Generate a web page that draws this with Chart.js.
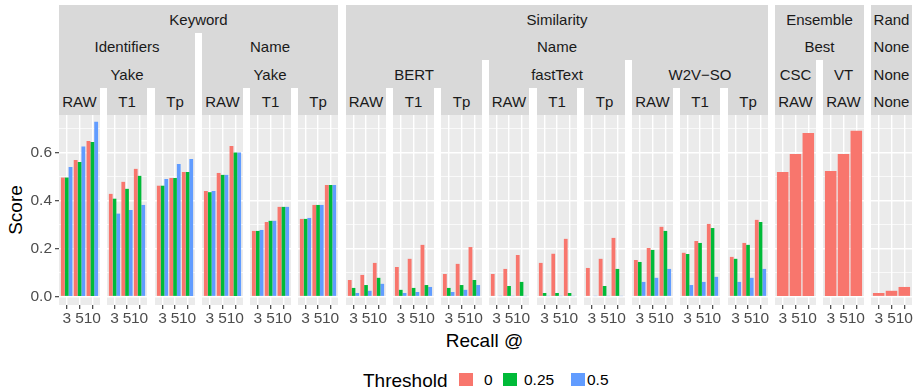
<!DOCTYPE html>
<html><head><meta charset="utf-8">
<script src="https://cdn.jsdelivr.net/npm/chart.js@4.4.0/dist/chart.umd.min.js"></script>
<style>
body{margin:0;background:#fff;}
#root{position:relative;width:916px;height:391px;overflow:hidden;font-family:"Liberation Sans",Arial,sans-serif;background:#fff;}
.strip{position:absolute;background:#D9D9D9;color:#1A1A1A;font-size:15px;display:flex;align-items:center;justify-content:center;white-space:nowrap;overflow:hidden;}
.txt{position:absolute;white-space:nowrap;color:#000;}
canvas{position:absolute;}
</style></head><body><div id="root"></div>
<script>
// ---- data ----
const recallAt = ['3', '5', '10'];
const thresholds = ['0', '0.25', '0.5'];
const thresholdColors = ['#F8766D', '#00BA38', '#619CFF'];
const yTickValues = [0, 0.1, 0.2, 0.3, 0.4, 0.5, 0.6, 0.7];
const yTickLabels = ['0.0', '', '0.2', '', '0.4', '', '0.6', ''];

// each: rows = threshold 0 / 0.25 / 0.5, columns = Recall@3, @5, @10
const kwIdYakeRaw = [[0.495, 0.568, 0.647], [0.495, 0.560, 0.643], [0.539, 0.624, 0.727]];
const kwIdYakeT1  = [[0.427, 0.477, 0.531], [0.407, 0.448, 0.502], [0.345, 0.360, 0.381]];
const kwIdYakeTp  = [[0.461, 0.493, 0.518], [0.461, 0.493, 0.518], [0.489, 0.551, 0.572]];
const kwNmYakeRaw = [[0.439, 0.514, 0.626], [0.434, 0.506, 0.599], [0.439, 0.506, 0.599]];
const kwNmYakeT1  = [[0.273, 0.310, 0.373], [0.273, 0.315, 0.373], [0.277, 0.315, 0.373]];
const kwNmYakeTp  = [[0.323, 0.381, 0.464], [0.323, 0.381, 0.464], [0.327, 0.381, 0.464]];
const simBertRaw  = [[0.069, 0.090, 0.140], [0.036, 0.048, 0.078], [0.015, 0.024, 0.053]];
const simBertT1   = [[0.123, 0.157, 0.215], [0.028, 0.036, 0.048], [0.015, 0.019, 0.040]];
const simBertTp   = [[0.094, 0.136, 0.206], [0.036, 0.048, 0.069], [0.019, 0.028, 0.048]];
const simFtRaw    = [[0.094, 0.115, 0.173], [0.003, 0.044, 0.061], [0.002, 0.002, 0.002]];
const simFtT1     = [[0.140, 0.178, 0.240], [0.015, 0.015, 0.015], [0.002, 0.002, 0.002]];
const simFtTp     = [[0.119, 0.157, 0.244], [0.003, 0.044, 0.115], [0.002, 0.002, 0.002]];
const simW2vRaw   = [[0.152, 0.202, 0.290], [0.144, 0.194, 0.273], [0.061, 0.078, 0.115]];
const simW2vT1    = [[0.182, 0.231, 0.302], [0.177, 0.223, 0.285], [0.048, 0.061, 0.082]];
const simW2vTp    = [[0.165, 0.223, 0.319], [0.157, 0.215, 0.310], [0.061, 0.078, 0.115]];
const ensCscRaw   = [[0.518, 0.593, 0.680]];
const ensVtRaw    = [[0.522, 0.593, 0.689]];
const randNone    = [[0.015, 0.024, 0.040]];

const panelData = [kwIdYakeRaw, kwIdYakeT1, kwIdYakeTp, kwNmYakeRaw, kwNmYakeT1, kwNmYakeTp,
  simBertRaw, simBertT1, simBertTp, simFtRaw, simFtT1, simFtTp, simW2vRaw, simW2vT1, simW2vTp,
  ensCscRaw, ensVtRaw, randNone];

// strip rows: [label, first panel, last panel]
const strip1 = [['Keyword', 0, 5], ['Similarity', 6, 14], ['Ensemble', 15, 16], ['Rand', 17, 17]];
const strip2 = [['Identifiers', 0, 2], ['Name', 3, 5], ['Name', 6, 14], ['Best', 15, 16], ['None', 17, 17]];
const strip3 = [['Yake', 0, 2], ['Yake', 3, 5], ['BERT', 6, 8], ['fastText', 9, 11], ['W2V\u2212SO', 12, 14], ['CSC', 15, 15], ['VT', 16, 16], ['None', 17, 17]];
const strip4 = ['RAW', 'T1', 'Tp', 'RAW', 'T1', 'Tp', 'RAW', 'T1', 'Tp', 'RAW', 'T1', 'Tp', 'RAW', 'T1', 'Tp', 'RAW', 'RAW', 'None'];

// ---- layout ----
const root = document.getElementById('root');
const FONT = '"Liberation Sans", Arial, sans-serif';
const nP = panelData.length;
const lefts = [], rights = [];
for (let i = 0; i < nP; i++) { lefts.push(Math.round(59 + i * 47.76)); rights.push(Math.round(59 + i * 47.76 + 40.6)); }
const panelTop = 115, panelBottom = 305, canvasBottom = 332;

function addStrip(label, a, b, top, h) {
  const d = document.createElement('div');
  d.className = 'strip';
  d.style.left = lefts[a] + 'px'; d.style.width = (rights[b] - lefts[a]) + 'px';
  d.style.top = top + 'px'; d.style.height = h + 'px';
  d.textContent = label;
  root.appendChild(d);
}
strip1.forEach(s => addStrip(s[0], s[1], s[2], 5, 28));
strip2.forEach(s => addStrip(s[0], s[1], s[2], 33, 27));
strip3.forEach(s => addStrip(s[0], s[1], s[2], 60, 28));
strip4.forEach((s, i) => addStrip(s, i, i, 88, 27));

function addText(t, x, y, size, extra) {
  const d = document.createElement('div');
  d.className = 'txt'; d.textContent = t;
  d.style.fontSize = size + 'px';
  d.style.left = x + 'px'; d.style.top = y + 'px';
  d.style.lineHeight = '1';
  if (extra) Object.assign(d.style, extra);
  root.appendChild(d);
  return d;
}
addText('Score', 15, 210, 19, {transform: 'translate(-50%,-50%) rotate(-90deg)'});
addText('Recall @', 484.5, 340, 19, {transform: 'translate(-50%,-50%)'});
addText('Threshold', 363, 380, 19, {transform: 'translate(0,-50%)'});
const keyX = [459, 503, 571], labX = [484, 524, 587];
thresholds.forEach((t, k) => {
  const b = document.createElement('div');
  Object.assign(b.style, {position: 'absolute', left: keyX[k] + 'px', top: '373px', width: '14px', height: '13px', background: thresholdColors[k]});
  root.appendChild(b);
  addText(t, labX[k], 380, 15.5, {transform: 'translate(0,-50%)'});
});

const panelBg = {
  id: 'panelBg',
  beforeDraw(c) {
    const a = c.chartArea, ctx = c.ctx;
    ctx.save(); ctx.fillStyle = '#EBEBEB';
    ctx.fillRect(a.left, a.top, a.right - a.left, a.bottom - a.top);
    ctx.restore();
  }
};

function isMajor(v) { return Math.round(v * 10) % 2 === 0; }

panelData.forEach((series, i) => {
  const first = i === 0;
  const L = lefts[i], R = rights[i];
  const cl = first ? 0 : L - 4;
  const cw = R + 4 - cl;
  const ch = canvasBottom - panelTop;
  const cv = document.createElement('canvas');
  cv.width = cw; cv.height = ch;
  cv.style.left = cl + 'px'; cv.style.top = panelTop + 'px';
  cv.style.width = cw + 'px'; cv.style.height = ch + 'px';
  root.appendChild(cv);
  const datasets = series.map((vals, k) => ({
    label: thresholds[k],
    data: vals.map((v, j) => ({x: j + 1, y: v})),
    backgroundColor: thresholdColors[k],
    borderWidth: 0,
    categoryPercentage: 0.9,
    barPercentage: 1
  }));
  new Chart(cv, {
    type: 'bar',
    data: {datasets},
    plugins: [panelBg],
    options: {
      responsive: false, animation: false, events: [],
      devicePixelRatio: 1,
      layout: {padding: {left: first ? 0 : 4, right: 4, top: 0, bottom: 0}},
      plugins: {legend: {display: false}, tooltip: {enabled: false}},
      scales: {
        x: {
          type: 'linear', min: 0.4, max: 3.6, offset: false,
          afterBuildTicks: s => { s.ticks = recallAt.map((_, j) => ({value: j + 1})); },
          afterFit: s => { s.height = canvasBottom - panelBottom; s.paddingLeft = 0; s.paddingRight = 0; },
          ticks: {callback: (v) => recallAt[Math.round(v) - 1], autoSkip: false, maxRotation: 0, minRotation: 0,
                  padding: 0, color: '#4D4D4D', font: {size: 15.5, family: FONT}},
          grid: {offset: false, color: '#FFFFFF', lineWidth: 1.4, tickColor: '#333333', tickLength: 4, tickWidth: 1.1},
          border: {display: false}
        },
        y: {
          type: 'linear', min: -0.035, max: 0.755,
          afterBuildTicks: s => { s.ticks = yTickValues.map(v => ({value: v})); },
          afterFit: s => { s.width = first ? L : 0; s.paddingTop = 0; s.paddingBottom = 0; },
          ticks: {display: first, callback: (v, idx) => yTickLabels[idx], padding: 3, color: '#4D4D4D', font: {size: 15.5, family: FONT}},
          grid: {
            color: '#FFFFFF',
            lineWidth: c => isMajor(c.tick ? c.tick.value : 0) ? 1.4 : 0.7,
            drawTicks: first, tickLength: 4, tickWidth: 1.1,
            tickColor: c => isMajor(c.tick ? c.tick.value : 0) ? '#333333' : 'rgba(0,0,0,0)'
          },
          border: {display: false}
        }
      }
    }
  });
});
</script></body></html>
